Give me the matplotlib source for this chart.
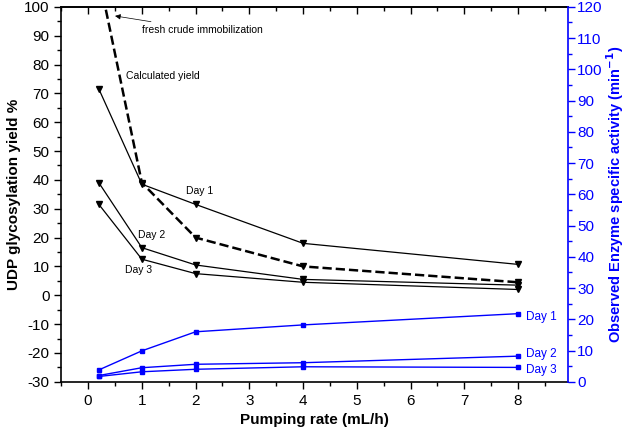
import matplotlib.pyplot as plt
from matplotlib.ticker import MultipleLocator

plt.rcParams['font.family'] = ['Liberation Sans', 'DejaVu Sans']
plt.rcParams['axes.unicode_minus'] = False

# pumping rate (mL/h)
rate = [0.2, 1, 2, 4, 8]
calc_rate = [0.33, 1, 2, 4, 8]

# UDP glycosylation yield %
yield_calc = [99, 39, 20, 10, 4.5]
yield_day1 = [71.5, 38.5, 31.5, 18, 10.7]
yield_day2 = [39, 16.5, 10.5, 5.5, 3.5]
yield_day3 = [31.5, 12.5, 7.5, 4.5, 2]

# observed enzyme specific activity (min-1)
act_day1 = [3.8, 9.9, 16.0, 18.2, 21.8]
act_day2 = [2.0, 4.5, 5.6, 6.1, 8.2]
act_day3 = [1.7, 3.2, 4.0, 4.8, 4.6]

fig = plt.figure(figsize=(6.25, 4.28), dpi=100)
ax = fig.add_axes([0.098, 0.108, 0.81, 0.876])
ax2 = ax.twinx()

# black yield lines
ax.plot(calc_rate, yield_calc, color='black', linestyle='--', linewidth=1.8,
        marker='v', markersize=5, markevery=[1, 2, 3, 4])
for y in (yield_day1, yield_day2, yield_day3):
    ax.plot(rate, y, color='black', linewidth=0.9, marker='v', markersize=5)

# blue activity lines
for a in (act_day1, act_day2, act_day3):
    ax2.plot(rate, a, color='blue', linewidth=1.0, marker='s', markersize=3.5)

ax.set_xlim(-0.5, 8.92)
ax.set_ylim(-30, 100)
ax2.set_ylim(0, 120)

ax.xaxis.set_major_locator(MultipleLocator(1))
ax.xaxis.set_minor_locator(MultipleLocator(0.5))
ax.yaxis.set_major_locator(MultipleLocator(10))
ax.yaxis.set_minor_locator(MultipleLocator(5))
ax2.yaxis.set_major_locator(MultipleLocator(10))
ax2.yaxis.set_minor_locator(MultipleLocator(5))

ax.tick_params(which='major', length=5, width=1, labelsize=11, direction='out')
ax.tick_params(which='minor', length=3, width=1, direction='out')
ax2.tick_params(which='major', length=5, width=1, labelsize=11, colors='blue', pad=2)
ax2.tick_params(which='minor', length=3, width=1, colors='blue')

top = ax.secondary_xaxis('top')
top.xaxis.set_major_locator(MultipleLocator(1))
top.xaxis.set_minor_locator(MultipleLocator(0.5))
top.tick_params(which='major', direction='in', length=5, width=1, labeltop=False)
top.tick_params(which='minor', direction='in', length=3, width=1)

for s in ax.spines.values():
    s.set_linewidth(1.2)
ax.spines['right'].set_visible(False)
ax2.spines['right'].set_color('blue')
ax2.spines['right'].set_linewidth(1.2)
for s in ('left', 'top', 'bottom'):
    ax2.spines[s].set_visible(False)
top.spines['top'].set_linewidth(1.2)

ax.set_xlabel('Pumping rate (mL/h)', fontsize=11, fontweight='bold', labelpad=4)
ax.set_ylabel('UDP glycosylation yield %', fontsize=11, fontweight='bold', labelpad=2)
ax2.set_ylabel('Observed Enzyme specific activity (min$^{\\mathbf{-1}}$)',
               fontsize=10.5, fontweight='bold', color='blue', labelpad=1)

# annotations
ax.annotate('fresh crude immobilization', xy=(0.45, 97), xytext=(1.0, 92),
            fontsize=7.5, va='center',
            arrowprops=dict(arrowstyle='-|>', color='black', lw=0.5,
                            mutation_scale=8))
ax.text(0.7, 76, 'Calculated yield', fontsize=7.5, va='center')
ax.text(1.83, 36, 'Day 1', fontsize=7.5, va='center')
ax.text(0.92, 21, 'Day 2', fontsize=7.5, va='center')
ax.text(0.68, 8.8, 'Day 3', fontsize=7.5, va='center')
ax2.text(8.14, 20.8, 'Day 1', fontsize=8.5, va='center', color='blue')
ax2.text(8.14, 8.8, 'Day 2', fontsize=8.5, va='center', color='blue')
ax2.text(8.14, 3.75, 'Day 3', fontsize=8.5, va='center', color='blue')

fig.savefig('out.png', dpi=100)
